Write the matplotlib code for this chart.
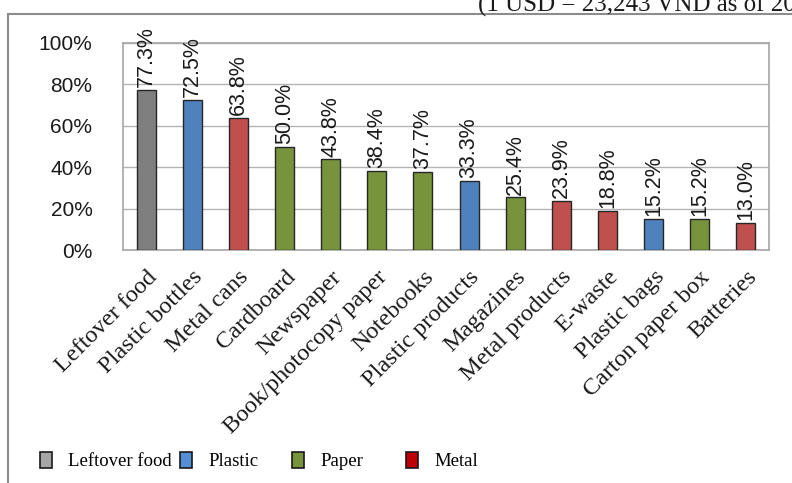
import matplotlib
matplotlib.use("Agg")
import matplotlib.pyplot as plt
from matplotlib.patches import Patch, Rectangle

categories = ["Leftover food", "Plastic bottles", "Metal cans", "Cardboard", "Newspaper",
              "Book/photocopy paper", "Notebooks", "Plastic products", "Magazines",
              "Metal products", "E-waste", "Plastic bags", "Carton paper box", "Batteries"]
values = [77.3, 72.5, 63.8, 50.0, 43.8, 38.4, 37.7, 33.3, 25.4, 23.9, 18.8, 15.2, 15.2, 13.0]
groups = ["Leftover food", "Plastic", "Metal", "Paper", "Paper", "Paper", "Paper", "Plastic",
          "Paper", "Metal", "Metal", "Plastic", "Paper", "Metal"]
legend_labels = ["Leftover food", "Plastic", "Paper", "Metal"]
yticks = [0, 20, 40, 60, 80, 100]

bar_colors = {"Leftover food": "#7f7f7f", "Plastic": "#4f81bd", "Paper": "#77933c", "Metal": "#c0504d"}
legend_colors = {"Leftover food": "#a6a6a6", "Plastic": "#558ed5", "Paper": "#77933c", "Metal": "#c00000"}

serif = ["Liberation Serif", "DejaVu Serif"]
sans = ["Liberation Sans", "DejaVu Sans"]

fig = plt.figure(figsize=(7.92, 4.83), dpi=100)
ax = fig.add_axes([123/792, 1-250/483, (769-123)/792, (250-43)/483])

x = list(range(len(categories)))
ax.bar(x, values, width=0.41, color=[bar_colors[g] for g in groups],
       edgecolor="#262626", linewidth=1.0, zorder=3)

for xi, v in zip(x, values):
    ax.annotate(f"{v:.1f}%", (xi, v), xytext=(0, 2), textcoords="offset points",
                rotation=90, ha="center", va="bottom", fontsize=15.5,
                family=sans, color="#1a1a1a", clip_on=False)

ax.set_xlim(-0.5, len(categories) - 0.5)
ax.set_ylim(0, 100)
ax.set_yticks(yticks)
ax.set_yticklabels([f"{t}%" for t in yticks], family=sans, fontsize=15, color="#1a1a1a")
ax.set_xticks(x)
ax.set_xticklabels(categories, rotation=45, ha="right", va="top", rotation_mode="anchor",
                   family=serif, fontsize=17.5, color="#1a1a1a")
ax.tick_params(axis="both", length=0)
ax.tick_params(axis="x", pad=12)
ax.tick_params(axis="y", pad=22)
ax.grid(axis="y", color="#b3b3b3", linewidth=1.0, zorder=0)
for s in ax.spines.values():
    s.set_color("#a6a6a6")
    s.set_linewidth(1.2)

leg_x = [40, 180, 292, 406]
for lab, lx in zip(legend_labels, leg_x):
    h = Patch(facecolor=legend_colors[lab], edgecolor="#1a1a1a", linewidth=1.2)
    fig.legend([h], [lab], loc="center left", bbox_to_anchor=(lx/792, 1-461/483),
               frameon=False, prop={"family": serif, "size": 13.5},
               borderpad=0, borderaxespad=0,
               handlelength=0.65, handleheight=0.95, handletextpad=0.85)

fig.add_artist(Rectangle((8/792, -0.05), 1.1, 1.05 - 14/483, transform=fig.transFigure,
                         fill=False, edgecolor="#8c8c8c", linewidth=1.5, clip_on=False))
fig.text(478/792, 1-12/483, "(1 USD = 23,243 VND as of 2019)", family=serif, fontsize=18,
         ha="left", va="baseline", color="#1a1a1a")

fig.savefig("out.png", dpi=100)
